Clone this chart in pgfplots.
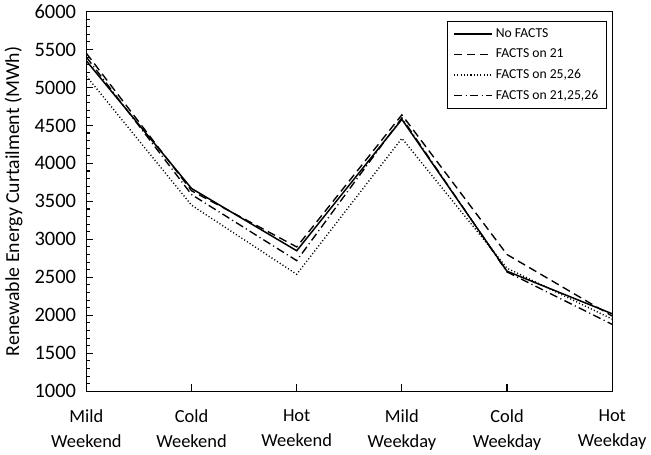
\documentclass[border=0pt]{standalone}
\usepackage{fontspec}
\setmainfont{Carlito}
\usepackage{pgfplots}
\pgfplotsset{compat=1.18}
\begin{document}
\begin{tikzpicture}
\begin{axis}[
    width=385pt, height=278pt, scale only axis,
    xmin=0, xmax=5, ymin=1000, ymax=6000,
    xtick={0,1,2,3,4,5},
    xticklabels={{Mild\\Weekend},{Cold\\Weekend},{Hot\\Weekend},{Mild\\Weekday},{Cold\\Weekday},{Hot\\Weekday}},
    xticklabel style={align=center, font=\fontsize{13.5}{18}\selectfont, yshift=-10pt},
    ytick distance=500, minor y tick num=4,
    tick pos=left, tick align=inside,
    major tick length=5pt, minor tick length=3pt,
    tick style={black, line width=0.8pt},
    yticklabel style={font=\fontsize{15}{17}\selectfont, xshift=-4pt},
    /pgf/number format/assume math mode=true,
    /pgf/number format/1000 sep={},
    ylabel={Renewable Energy Curtailment (MWh)},
    ylabel style={font=\fontsize{14.5}{16}\selectfont, yshift=2pt},
    axis line style={line width=1pt},
    legend style={at={(0.99,0.975)}, anchor=north east, draw=black, line width=0.8pt,
      font=\fontsize{10}{12}\selectfont, row sep=3pt, inner xsep=4pt, inner ysep=3pt},
    legend cell align=left,
    legend image code/.code={\draw[#1] plot coordinates {(0pt,0pt) (28pt,0pt)};},
]
\addplot[black, line width=1.1pt] coordinates {
    (0,5350) (1,3670) (2,2850) (3,4580) (4,2580) (5,2020)};
\addplot[black, line width=1pt, dash pattern=on 6pt off 3.5pt] coordinates {
    (0,5450) (1,3640) (2,2900) (3,4640) (4,2800) (5,1990)};
\addplot[black, line width=1pt, dash pattern=on 0.8pt off 1.6pt] coordinates {
    (0,5150) (1,3450) (2,2540) (3,4330) (4,2620) (5,1950)};
\addplot[black, line width=1pt, dash pattern=on 6pt off 2.5pt on 0.8pt off 2.5pt] coordinates {
    (0,5400) (1,3590) (2,2720) (3,4600) (4,2570) (5,1880)};
\legend{No FACTS, FACTS on 21, {FACTS on 25,26}, {FACTS on 21,25,26}}
\end{axis}
\end{tikzpicture}
\end{document}
